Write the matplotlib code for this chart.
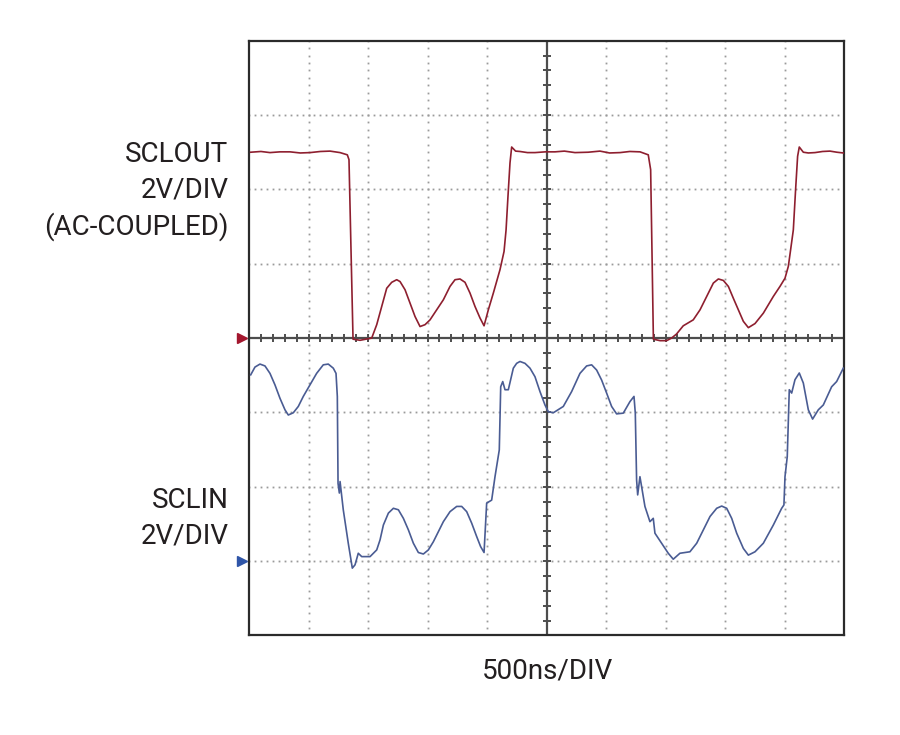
import numpy as np
import matplotlib
matplotlib.use("Agg")
import matplotlib.pyplot as plt

plt.rcParams['font.family'] = ['Roboto', 'DejaVu Sans']

# scope settings
ns_per_div = 500
volts_per_div = 2
n_xdiv = 10
n_ydiv = 8
sclout_ground_div = 4
sclin_ground_div = 1

# SCLOUT trace (ns, V), AC coupled
sclout_t = [14, 100, 176, 260, 345, 430, 513, 600, 681, 765, 826, 840, 857, 874, 933,
            1031, 1073, 1115, 1157, 1199, 1241, 1269, 1311, 1353, 1395, 1437, 1479,
            1521, 1577, 1633, 1689, 1731, 1773, 1815, 1857, 1899, 1941, 1975, 2011,
            2053, 2109, 2143, 2160, 2176, 2193, 2207, 2240, 2277, 2340, 2403, 2490,
            2571, 2650, 2739, 2850, 2949, 3030, 3118, 3200, 3286, 3355, 3375, 3386,
            3398, 3454, 3509, 3551, 3593, 3649, 3733, 3790, 3846, 3902, 3944, 3986,
            4028, 4070, 4112, 4154, 4196, 4252, 4322, 4406, 4462, 4504, 4532, 4551,
            4574, 4593, 4610, 4624, 4658, 4700, 4756, 4820, 4882, 4940, 4994]
sclout_v = [5.00, 5.02, 4.99, 5.01, 5.01, 4.98, 4.99, 5.02, 5.03, 4.99, 4.93, 4.80,
            2.37, -0.03, -0.06, 0.00, 0.36, 0.85, 1.34, 1.50, 1.57, 1.52, 1.30, 0.94,
            0.58, 0.31, 0.36, 0.49, 0.76, 1.03, 1.39, 1.57, 1.59, 1.50, 1.21, 0.85,
            0.54, 0.33, 0.76, 1.21, 1.84, 2.33, 2.91, 3.81, 4.71, 5.14, 5.03, 5.02,
            4.99, 4.99, 5.01, 5.01, 5.03, 4.99, 5.00, 5.03, 4.98, 4.99, 5.02, 5.01,
            4.93, 4.53, 2.37, -0.03, -0.07, -0.07, 0.00, 0.11, 0.33, 0.49, 0.76, 1.12,
            1.48, 1.59, 1.55, 1.39, 1.07, 0.76, 0.45, 0.28, 0.39, 0.67, 1.12, 1.39,
            1.61, 1.93, 2.37, 2.91, 3.99, 4.89, 5.14, 5.00, 4.98, 4.99, 5.02, 5.03,
            5.00, 4.98]

# SCLIN trace (ns, V)
sclin_t = [14, 50, 92, 134, 176, 218, 260, 302, 330, 372, 414, 456, 512, 568, 624,
           666, 708, 731, 742, 748, 759, 765, 792, 834, 868, 891, 918, 947, 1017,
           1073, 1101, 1129, 1171, 1213, 1255, 1297, 1339, 1381, 1423, 1465, 1507,
           1549, 1591, 1633, 1689, 1745, 1787, 1829, 1871, 1913, 1946, 1975, 1997,
           2039, 2067, 2103, 2115, 2132, 2151, 2179, 2221, 2249, 2277, 2319, 2361,
           2403, 2445, 2487, 2515, 2557, 2641, 2711, 2781, 2837, 2879, 2921, 2963,
           3005, 3047, 3089, 3145, 3201, 3235, 3246, 3257, 3266, 3285, 3327, 3369,
           3397, 3411, 3467, 3523, 3565, 3621, 3705, 3762, 3818, 3874, 3930, 3972,
           4014, 4056, 4098, 4154, 4196, 4252, 4322, 4406, 4476, 4495, 4504, 4523,
           4540, 4560, 4588, 4624, 4658, 4700, 4736, 4784, 4826, 4896, 4938, 4994]
sclin_v = [5.01, 5.22, 5.30, 5.25, 5.05, 4.74, 4.38, 4.07, 3.93, 3.99, 4.16, 4.43,
           4.74, 5.05, 5.28, 5.30, 5.19, 5.05, 4.43, 2.09, 1.83, 2.14, 1.38, 0.48,
           -0.19, -0.10, 0.21, 0.12, 0.12, 0.30, 0.57, 0.97, 1.29, 1.42, 1.38, 1.15,
           0.84, 0.48, 0.23, 0.19, 0.30, 0.52, 0.79, 1.06, 1.33, 1.47, 1.47, 1.33,
           1.02, 0.66, 0.39, 0.23, 1.56, 1.64, 2.27, 2.99, 4.69, 4.83, 4.61, 4.61,
           5.19, 5.32, 5.37, 5.32, 5.19, 4.96, 4.56, 4.20, 4.02, 3.99, 4.16, 4.56,
           5.05, 5.25, 5.28, 5.14, 4.87, 4.52, 4.16, 3.96, 3.98, 4.29, 4.43, 3.98,
           2.18, 1.78, 2.27, 1.47, 1.06, 1.15, 0.75, 0.48, 0.21, 0.05, 0.21, 0.25,
           0.48, 0.84, 1.20, 1.42, 1.48, 1.42, 1.15, 0.75, 0.34, 0.16, 0.25, 0.48,
           0.97, 1.42, 1.51, 2.27, 2.81, 4.61, 4.52, 4.88, 5.06, 4.79, 4.07, 3.82,
           4.07, 4.20, 4.69, 4.83, 5.19]

red = '#8e1f2f'
blue = '#4a5c93'
grid_c = '#9a9a9a'
text_c = '#231f20'

fig = plt.figure(figsize=(9, 7.35), dpi=100)
ax = fig.add_axes([0.2767, 0.1355, 0.6611, 0.8091])
ax.set_xlim(0, n_xdiv)
ax.set_ylim(0, n_ydiv)
ax.set_xticks([])
ax.set_yticks([])
for s in ax.spines.values():
    s.set_linewidth(1.6)
    s.set_color('#2b2b2b')

# dotted graticule
fine_x = np.arange(0, n_xdiv + 0.001, 0.1)
fine_y = np.arange(0, n_ydiv + 0.001, 0.1)
for gx in range(1, n_xdiv):
    if gx == 5:
        continue
    ax.plot(np.full_like(fine_y, gx), fine_y, ls='none', marker='s', ms=1.3,
            mec='none', color=grid_c)
for gy in range(1, n_ydiv):
    if gy == 4:
        continue
    ax.plot(fine_x, np.full_like(fine_x, gy), ls='none', marker='s', ms=1.3,
            mec='none', color=grid_c)

# center axes with minor ticks
ax.axvline(5, color='#4d4d4d', lw=1.6)
ax.axhline(4, color='#4d4d4d', lw=1.6)
tx = np.arange(0.2, n_xdiv, 0.2)
ty = np.arange(0.2, n_ydiv, 0.2)
ax.plot(tx, np.full_like(tx, 4), ls='none', marker='|', ms=6, mew=1.4, color='#4d4d4d')
ax.plot(np.full_like(ty, 5), ty, ls='none', marker='_', ms=6, mew=1.4, color='#4d4d4d')

# traces
t_out = np.array(sclout_t) / ns_per_div
y_out = np.array(sclout_v) / volts_per_div + sclout_ground_div
t_in = np.array(sclin_t) / ns_per_div
y_in = np.array(sclin_v) / volts_per_div + sclin_ground_div
ax.plot(t_out, y_out, color=red, lw=1.2, zorder=5)
ax.plot(t_in, y_in, color=blue, lw=1.2, zorder=5)

# ground markers
ax.plot([-0.12], [sclout_ground_div], marker='>', ms=7, color='#a3162e', clip_on=False)
ax.plot([-0.12], [sclin_ground_div], marker='>', ms=7, color='#2f55a8', clip_on=False)

# labels
fs = 20
fig.text(0.254, 1 - 154 / 735, 'SCLOUT', ha='right', va='center', fontsize=fs, color=text_c)
fig.text(0.254, 1 - 190 / 735, '2V/DIV', ha='right', va='center', fontsize=fs, color=text_c)
fig.text(0.254, 1 - 227 / 735, '(AC-COUPLED)', ha='right', va='center', fontsize=fs, color=text_c)
fig.text(0.254, 1 - 500 / 735, 'SCLIN', ha='right', va='center', fontsize=fs, color=text_c)
fig.text(0.254, 1 - 536 / 735, '2V/DIV', ha='right', va='center', fontsize=fs, color=text_c)
fig.text(547.5 / 900, 1 - 671 / 735, '500ns/DIV', ha='center', va='center', fontsize=fs, color=text_c)

fig.savefig('out.png', dpi=100)
